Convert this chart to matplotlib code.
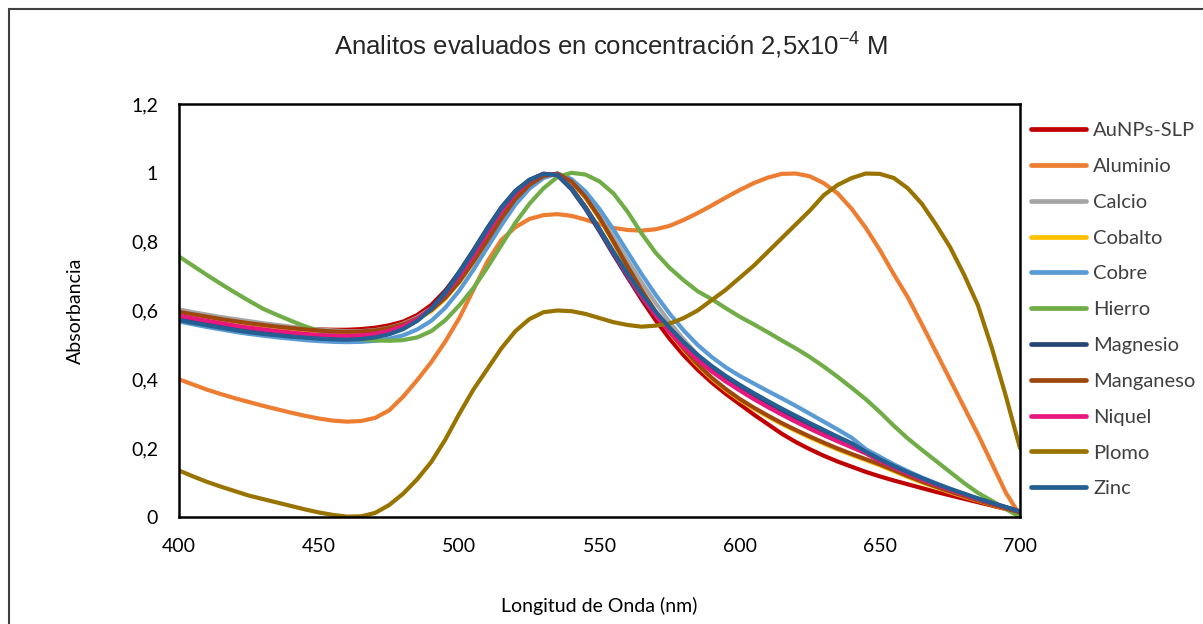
import numpy as np
import matplotlib
matplotlib.use("Agg")
import matplotlib.pyplot as plt
from matplotlib.patches import Rectangle
from matplotlib.ticker import FuncFormatter

plt.rcParams["font.family"] = ["Lato", "DejaVu Sans"]
plt.rcParams["mathtext.fontset"] = "custom"
plt.rcParams["mathtext.rm"] = "Liberation Sans"

# Wavelength sampling (nm)
wavelength = np.arange(400, 701, 5)

aunps_slp = [0.59, 0.583, 0.576, 0.57, 0.565, 0.56, 0.556, 0.552, 0.549, 0.547, 0.545, 0.544, 0.544,
             0.546, 0.55, 0.557, 0.568, 0.587, 0.616, 0.658, 0.71, 0.77, 0.832, 0.893, 0.943, 0.978, 0.997, 0.993,
             0.955, 0.9, 0.835, 0.765, 0.697, 0.632, 0.572, 0.518, 0.47, 0.428, 0.391, 0.358, 0.328, 0.298, 0.27,
             0.242, 0.218, 0.197, 0.178, 0.161, 0.146, 0.131, 0.118, 0.106, 0.095, 0.084, 0.073, 0.063, 0.053,
             0.043, 0.033, 0.023, 0.013]
aluminio = [0.40, 0.385, 0.37, 0.357, 0.345, 0.334, 0.323, 0.313, 0.303, 0.294, 0.286, 0.28, 0.277,
            0.279, 0.288, 0.31, 0.35, 0.398, 0.45, 0.51, 0.578, 0.66, 0.742, 0.805, 0.842, 0.866, 0.877, 0.88,
            0.875, 0.864, 0.851, 0.84, 0.834, 0.832, 0.836, 0.846, 0.863, 0.883, 0.905, 0.928, 0.95, 0.97, 0.986,
            0.997, 0.998, 0.99, 0.97, 0.94, 0.895, 0.84, 0.776, 0.705, 0.638, 0.56, 0.48, 0.40, 0.32,
            0.24, 0.155, 0.07, 0.005]
calcio = [0.603, 0.595, 0.588, 0.581, 0.575, 0.569, 0.563, 0.558, 0.553, 0.549, 0.545, 0.542, 0.54,
          0.54, 0.543, 0.55, 0.562, 0.58, 0.607, 0.647, 0.698, 0.758, 0.822, 0.885, 0.938, 0.975, 0.995, 0.996,
          0.972, 0.93, 0.875, 0.812, 0.746, 0.682, 0.622, 0.566, 0.516, 0.471, 0.432, 0.399, 0.37, 0.344, 0.32,
          0.298, 0.277, 0.257, 0.238, 0.22, 0.202, 0.185, 0.162, 0.143, 0.125, 0.108, 0.093, 0.078, 0.064,
          0.051, 0.039, 0.027, 0.015]
cobalto = [0.592, 0.585, 0.578, 0.571, 0.565, 0.559, 0.554, 0.549, 0.545, 0.541, 0.538, 0.536, 0.535,
           0.536, 0.539, 0.546, 0.557, 0.574, 0.598, 0.634, 0.682, 0.74, 0.802, 0.866, 0.922, 0.964, 0.99, 0.997,
           0.973, 0.927, 0.867, 0.797, 0.725, 0.657, 0.594, 0.536, 0.486, 0.441, 0.402, 0.369, 0.34, 0.315, 0.292,
           0.27, 0.25, 0.231, 0.213, 0.196, 0.18, 0.165, 0.15, 0.133, 0.116, 0.1, 0.086, 0.072, 0.059,
           0.047, 0.035, 0.024, 0.012]
cobre = [0.568, 0.56, 0.552, 0.545, 0.538, 0.532, 0.527, 0.522, 0.518, 0.514, 0.511, 0.509, 0.508,
         0.509, 0.512, 0.518, 0.528, 0.545, 0.57, 0.608, 0.658, 0.718, 0.783, 0.848, 0.908, 0.954, 0.985, 0.998,
         0.982, 0.946, 0.895, 0.835, 0.77, 0.706, 0.646, 0.591, 0.542, 0.5, 0.465, 0.435, 0.41, 0.388, 0.366,
         0.345, 0.323, 0.3, 0.277, 0.254, 0.23, 0.197, 0.175, 0.153, 0.133, 0.115, 0.098, 0.082, 0.067,
         0.053, 0.04, 0.028, 0.016]
hierro = [0.757, 0.73, 0.703, 0.677, 0.652, 0.628, 0.605, 0.587, 0.57, 0.554, 0.54, 0.529, 0.521,
          0.516, 0.513, 0.512, 0.514, 0.522, 0.54, 0.572, 0.615, 0.665, 0.725, 0.79, 0.855, 0.91, 0.955, 0.988,
          1.0, 0.995, 0.975, 0.94, 0.887, 0.824, 0.768, 0.724, 0.688, 0.656, 0.633, 0.607, 0.582, 0.56, 0.537,
          0.513, 0.49, 0.465, 0.437, 0.407, 0.375, 0.342, 0.305, 0.265, 0.228, 0.195, 0.163, 0.131, 0.099,
          0.07, 0.047, 0.023, 0.0]
magnesio = [0.577, 0.569, 0.561, 0.554, 0.547, 0.541, 0.536, 0.531, 0.527, 0.523, 0.52, 0.518, 0.517,
            0.519, 0.524, 0.533, 0.548, 0.572, 0.607, 0.655, 0.713, 0.775, 0.84, 0.9, 0.948, 0.98, 0.997, 0.993,
            0.952, 0.895, 0.83, 0.762, 0.697, 0.638, 0.585, 0.538, 0.497, 0.461, 0.43, 0.402, 0.377, 0.353, 0.33,
            0.308, 0.287, 0.267, 0.247, 0.228, 0.21, 0.188, 0.165, 0.146, 0.128, 0.111, 0.095, 0.08, 0.066,
            0.053, 0.04, 0.028, 0.016]
manganeso = [0.596, 0.589, 0.582, 0.575, 0.569, 0.563, 0.558, 0.553, 0.549, 0.545, 0.542, 0.539, 0.538,
             0.539, 0.542, 0.549, 0.56, 0.577, 0.601, 0.637, 0.684, 0.742, 0.804, 0.868, 0.924, 0.965, 0.991, 0.998,
             0.975, 0.93, 0.87, 0.8, 0.728, 0.66, 0.597, 0.539, 0.489, 0.444, 0.405, 0.372, 0.343, 0.318, 0.295,
             0.273, 0.253, 0.234, 0.216, 0.199, 0.183, 0.168, 0.153, 0.136, 0.119, 0.103, 0.088, 0.074, 0.061,
             0.048, 0.036, 0.025, 0.013]
niquel = [0.585, 0.577, 0.57, 0.563, 0.556, 0.55, 0.545, 0.54, 0.536, 0.532, 0.529, 0.527, 0.526,
          0.528, 0.532, 0.541, 0.555, 0.576, 0.605, 0.648, 0.70, 0.76, 0.825, 0.888, 0.94, 0.977, 0.997, 0.995,
          0.956, 0.9, 0.836, 0.768, 0.702, 0.641, 0.586, 0.537, 0.494, 0.456, 0.423, 0.394, 0.368, 0.343, 0.32,
          0.298, 0.277, 0.257, 0.238, 0.22, 0.203, 0.185, 0.163, 0.144, 0.126, 0.109, 0.094, 0.079, 0.065,
          0.052, 0.04, 0.028, 0.016]
plomo = [0.135, 0.118, 0.102, 0.088, 0.075, 0.062, 0.052, 0.042, 0.032, 0.022, 0.013, 0.006, 0.001,
         0.002, 0.012, 0.035, 0.068, 0.11, 0.16, 0.225, 0.30, 0.37, 0.43, 0.49, 0.54, 0.575, 0.595, 0.60,
         0.598, 0.59, 0.578, 0.566, 0.558, 0.553, 0.556, 0.562, 0.578, 0.60, 0.63, 0.66, 0.695, 0.73, 0.77,
         0.81, 0.85, 0.89, 0.935, 0.965, 0.985, 0.998, 0.997, 0.985, 0.955, 0.91, 0.85, 0.785, 0.705,
         0.615, 0.49, 0.35, 0.2]
zinc = [0.572, 0.564, 0.557, 0.55, 0.543, 0.537, 0.532, 0.528, 0.524, 0.521, 0.518, 0.516, 0.515,
        0.517, 0.522, 0.531, 0.546, 0.57, 0.604, 0.651, 0.709, 0.771, 0.836, 0.897, 0.946, 0.979, 0.997, 0.994,
        0.955, 0.9, 0.837, 0.771, 0.707, 0.649, 0.597, 0.55, 0.508, 0.471, 0.439, 0.41, 0.384, 0.36, 0.337,
        0.315, 0.294, 0.273, 0.253, 0.233, 0.214, 0.19, 0.168, 0.148, 0.13, 0.113, 0.097, 0.082, 0.068,
        0.054, 0.041, 0.029, 0.016]

series_names = ["AuNPs-SLP", "Aluminio", "Calcio", "Cobalto", "Cobre", "Hierro",
                "Magnesio", "Manganeso", "Niquel", "Plomo", "Zinc"]
series_values = [aunps_slp, aluminio, calcio, cobalto, cobre, hierro,
                 magnesio, manganeso, niquel, plomo, zinc]
series_colors = ["#C00000", "#ED7D31", "#A5A5A5", "#FFC000", "#5B9BD5", "#70AD47",
                 "#264478", "#9E480E", "#E8177D", "#997300", "#255E91"]

x_ticks = [400, 450, 500, 550, 600, 650, 700]
y_ticks = [0, 0.2, 0.4, 0.6, 0.8, 1.0, 1.2]

W, H = 1203, 624
fig = plt.figure(figsize=(W / 100, H / 100), dpi=100)
ax = fig.add_axes([179 / W, 1 - 517 / H, (1020 - 179) / W, (517 - 104) / H])

for name, vals, col in zip(series_names, series_values, series_colors):
    ax.plot(wavelength, vals, color=col, lw=3.0, label=name,
            solid_capstyle="round", solid_joinstyle="round")

ax.set_xlim(400, 700)
ax.set_ylim(0, 1.2)
ax.set_xticks(x_ticks)
ax.set_yticks(y_ticks)
ax.yaxis.set_major_formatter(FuncFormatter(lambda v, p: f"{v:g}".replace(".", ",")))
ax.tick_params(length=0, labelsize=14, pad=15, colors="black")
for s in ax.spines.values():
    s.set_linewidth(1.8)
    s.set_color("black")

ax.set_xlabel("Longitud de Onda (nm)", fontsize=14, labelpad=30)
ax.set_ylabel("Absorbancia", fontsize=14, labelpad=34)

fig.text(0.508, 1 - 45 / H, r"Analitos evaluados en concentración 2,5x10$^{\mathregular{-4}}$ M",
         ha="center", va="center", fontsize=18.5, family="Liberation Sans", color="#262626")

leg = fig.legend(loc="upper left", bbox_to_anchor=(1031 / W, 1 - 122 / H),
                 bbox_transform=fig.transFigure, frameon=False, fontsize=14.5,
                 handlelength=2.75, handletextpad=0.35, labelspacing=0.93,
                 borderpad=0, borderaxespad=0)
for t in leg.get_texts():
    t.set_color("#404040")
for h in leg.get_lines():
    h.set_linewidth(3.4)

# outer chart frame
fig.patches.append(Rectangle((9 / W, -0.05), 1.1, 1 - 9 / H + 0.05, transform=fig.transFigure,
                             fill=False, edgecolor="#404040", lw=1.5))

fig.savefig("out.png", dpi=100)
